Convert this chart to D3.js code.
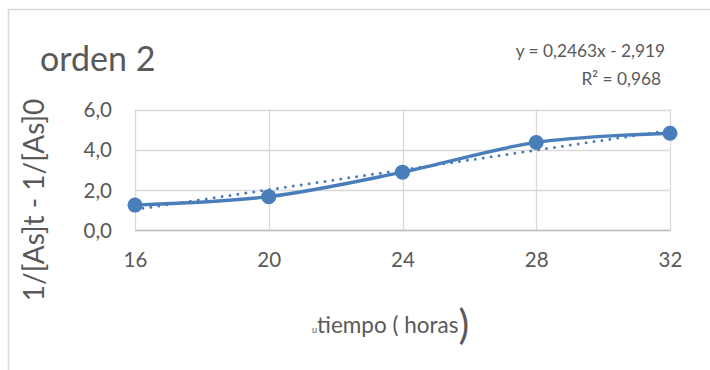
<!DOCTYPE html>
<html>
<head>
<meta charset="utf-8">
<script src="https://cdn.jsdelivr.net/npm/d3@7"></script>
<style>
  html, body { margin: 0; padding: 0; background: #fff; }
  svg { display: block; }
  text { font-family: Lato, "Open Sans", sans-serif; fill: #595959; }
</style>
</head>
<body>
<svg id="chart" width="710" height="370"></svg>
<script>
// Reaction order 2 data: time (hours) vs 1/[As]t - 1/[As]0
const tiempo = [16, 20, 24, 28, 32];
const valores = [1.24, 1.66, 2.88, 4.36, 4.82];
const yTicks = [0, 2, 4, 6];
const xTicks = [16, 20, 24, 28, 32];
// Linear trendline as stated by its label
const pendiente = 0.2463;
const intercepto = -2.919;
const r2 = 0.968;

const fmt = d => d3.format(".1f")(d).replace(".", ",");
const svg = d3.select("#chart");

// Chart frame
svg.append("path")
  .attr("d", "M8.5,370 V9.5 H710")
  .attr("fill", "none")
  .attr("stroke", "#d9d9d9")
  .attr("stroke-width", 1.5);

const x = d3.scaleLinear().domain([16, 32]).range([135, 670]);
const y = d3.scaleLinear().domain([0, 6]).range([230, 109.5]);

// Gridlines
svg.append("g").selectAll("line").data(yTicks).join("line")
  .attr("x1", x(16)).attr("x2", x(32))
  .attr("y1", d => Math.round(y(d)) + 0.5).attr("y2", d => Math.round(y(d)) + 0.5)
  .attr("stroke", "#d9d9d9").attr("stroke-width", 1.3);
svg.append("g").selectAll("line").data(xTicks).join("line")
  .attr("y1", y(0)).attr("y2", y(6))
  .attr("x1", d => Math.round(x(d)) + 0.5).attr("x2", d => Math.round(x(d)) + 0.5)
  .attr("stroke", "#d9d9d9").attr("stroke-width", 1.3);

// Axes (labels only, lines come from gridlines)
const yAxis = svg.append("g").attr("transform", "translate(135,0)")
  .call(d3.axisLeft(y).tickValues(yTicks).tickFormat(fmt).tickSize(0).tickPadding(23));
yAxis.select(".domain").remove();
yAxis.selectAll("text").attr("font-size", 20.5).attr("fill", "#595959")
  .attr("font-family", "Lato").attr("dy", "0.35em");

const xAxis = svg.append("g").attr("transform", "translate(0,230)")
  .call(d3.axisBottom(x).tickValues(xTicks).tickFormat(d3.format("d")).tickSize(0).tickPadding(22));
xAxis.select(".domain").attr("stroke", "#bfbfbf").attr("stroke-width", 1.3);
xAxis.selectAll("text").attr("font-size", 20.5).attr("fill", "#595959")
  .attr("font-family", "Lato");

// Trendline (dotted)
const trend = d3.line().x(d => x(d)).y(d => y(pendiente * d + intercepto));
svg.append("path")
  .datum([16, 32])
  .attr("d", trend)
  .attr("fill", "none")
  .attr("stroke", "#4a7ebb")
  .attr("stroke-width", 3)
  .attr("stroke-linecap", "round")
  .attr("stroke-dasharray", "0 8");

// Smoothed series line
const pts = tiempo.map((t, i) => [t, valores[i]]);
const line = d3.line().x(d => x(d[0])).y(d => y(d[1])).curve(d3.curveCatmullRom.alpha(0.5));
svg.append("path")
  .datum(pts)
  .attr("d", line)
  .attr("fill", "none")
  .attr("stroke", "#4a7ebb")
  .attr("stroke-width", 3.4);

svg.append("g").selectAll("circle").data(pts).join("circle")
  .attr("cx", d => x(d[0])).attr("cy", d => y(d[1]))
  .attr("r", 7.5)
  .attr("fill", "#4a7ebb");

// Title
svg.append("text").attr("x", 40).attr("y", 71)
  .attr("font-size", 34).text("orden 2");

// Trendline equation
svg.append("text").attr("x", 665).attr("y", 57).attr("text-anchor", "end")
  .attr("font-size", 17.3)
  .text(`y = ${String(pendiente).replace(".", ",")}x - ${String(-intercepto).replace(".", ",")}`);
svg.append("text").attr("x", 661).attr("y", 85).attr("text-anchor", "end")
  .attr("font-size", 17.3)
  .text(`R² = ${String(r2).replace(".", ",")}`);

// Axis titles
svg.append("text")
  .attr("transform", "translate(44,200) rotate(-90)")
  .attr("text-anchor", "middle")
  .attr("font-size", 28)
  .text("1/[As]t - 1/[As]0");

const xt = svg.append("text").attr("x", 312).attr("y", 333).attr("font-size", 22.5);
xt.append("tspan").attr("font-size", 9).text("u");
xt.append("tspan").text("tiempo ( horas");
xt.append("tspan").attr("font-size", 40).attr("dy", 6).text(")");
</script>
</body>
</html>
